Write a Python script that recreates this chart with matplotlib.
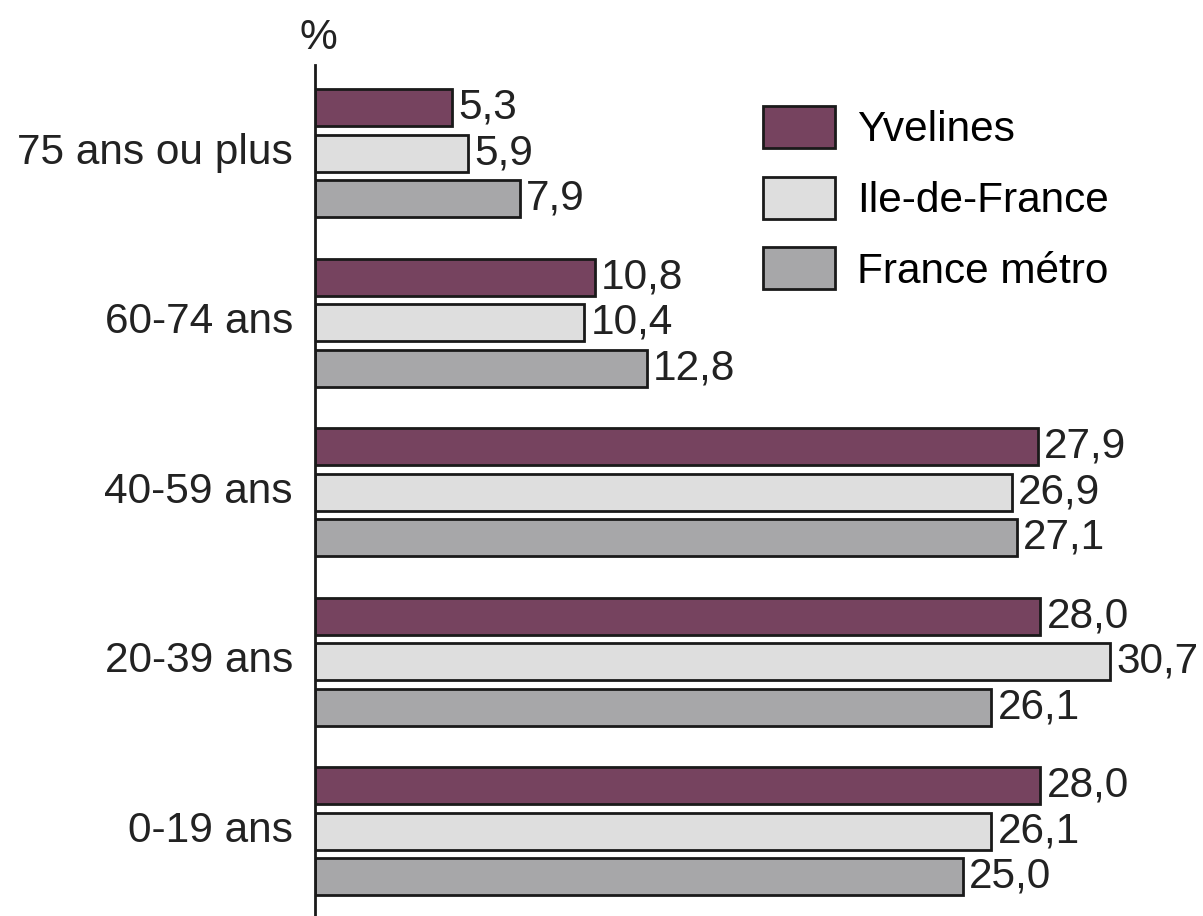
import numpy as np
import matplotlib.pyplot as plt
from matplotlib.transforms import ScaledTranslation

plt.rcParams['font.family'] = ['Liberation Sans', 'DejaVu Sans']

# age groups, bottom to top
ages = ["0-19 ans", "20-39 ans", "40-59 ans", "60-74 ans", "75 ans ou plus"]
yvelines = [28.0, 28.0, 27.9, 10.8, 5.3]
idf = [26.1, 30.7, 26.9, 10.4, 5.9]
france = [25.0, 26.1, 27.1, 12.8, 7.9]
series = ["Yvelines", "Ile-de-France", "France métro"]
colors = ["#76435f", "#dedede", "#a7a7a9"]

FS = 30.5

fig = plt.figure(figsize=(12.03, 9.16), dpi=100)
ax = fig.add_axes([315 / 1203, 0, 1 - 315 / 1203, 1 - 65 / 916])

y = np.arange(len(ages))
off = 0.268
h = 0.218
for vals, dy, col, name in zip([yvelines, idf, france], [off, 0, -off], colors, series):
    bars = ax.barh(y + dy, vals, height=h, color=col, edgecolor="#1a1a1a",
                   linewidth=2, label=name)
    for b, v in zip(bars, vals):
        ax.text(b.get_width() + 0.25, b.get_y() + b.get_height() / 2,
                f"{v:.1f}".replace(".", ","), va="center", ha="left",
                fontsize=FS, color="#222222")

ax.set_xlim(0, (1203 - 315) / 25.9)
ax.set_ylim(-0.50, 4.52)
ax.set_yticks(y)
ax.set_yticklabels(ages, fontsize=FS, color="#222222")
ax.tick_params(axis="y", length=0, pad=16)
# labels sit a little above the group centre
shift = ScaledTranslation(0, 5 / 100, fig.dpi_scale_trans)
for lab in ax.get_yticklabels():
    lab.set_transform(lab.get_transform() + shift)
ax.set_xticks([])
for s in ["top", "right", "bottom"]:
    ax.spines[s].set_visible(False)
ax.spines["left"].set_linewidth(2)
ax.spines["left"].set_color("#1a1a1a")

fig.text(318 / 1203, 1 - 38 / 916, "%", fontsize=FS, ha="center", va="center",
         color="#222222")

ax.legend(loc="upper left", bbox_to_anchor=(763 / 1203, 1 - 106 / 916),
          bbox_transform=fig.transFigure, frameon=False, fontsize=FS,
          handlelength=1.7, handleheight=1.15, labelspacing=0.62,
          handletextpad=0.52, borderpad=0, borderaxespad=0)

fig.savefig("out.png", dpi=100)
